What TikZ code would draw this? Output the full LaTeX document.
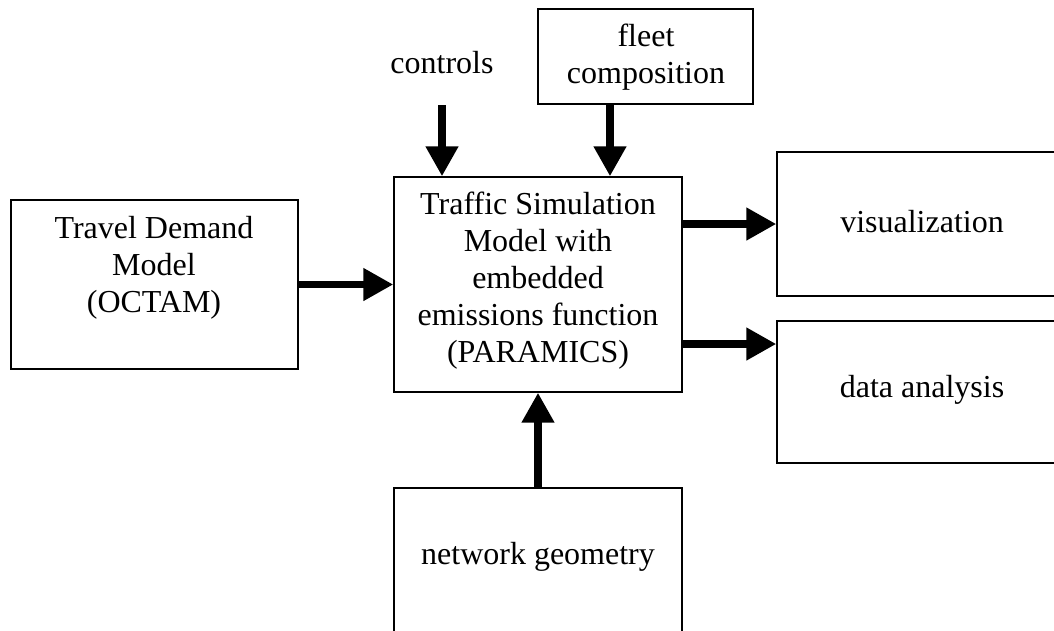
\documentclass[tikz,border=0pt]{standalone}
\usepackage{fontspec}
\setmainfont{Liberation Serif}
\usetikzlibrary{arrows.meta}
\tikzset{
  box/.style={draw, line width=1.4pt, rectangle, inner sep=0pt},
  txt/.style={align=center, inner sep=0pt, font=\fontsize{32}{37}\selectfont},
  flow/.style={line width=7.5pt, -{Triangle[width=31pt,length=30pt]}}
}
\begin{document}
\begin{tikzpicture}[x=1pt,y=-1pt]
\useasboundingbox (0,0) rectangle (1054,630);
\clip (0,0) rectangle (1054,630);
% boxes
\node[box, minimum width=287pt, minimum height=169pt] (tdm) at (154.5,284.5) {};
\node[box, minimum width=288pt, minimum height=215pt] (sim) at (538,284.5) {};
\node[box, minimum width=215pt, minimum height=95pt] (fleet) at (645.5,56.5) {};
\node[box, minimum width=300pt, minimum height=144pt] (vis) at (927,224) {};
\node[box, minimum width=300pt, minimum height=142pt] (data) at (927,392) {};
\node[box, minimum width=288pt, minimum height=200pt] (net) at (538,588) {};
% texts
\node[txt] (tdmt) at (154,268) {Travel Demand\\Model\\(OCTAM)};
\node[txt] (simt) at (538,281) {Traffic Simulation\\Model with\\embedded\\emissions function\\(PARAMICS)};
\node[txt] (fleett) at (646,57) {fleet\\composition};
\node[txt] (ctrl) at (442,63) {controls};
\node[txt] (vist) at (922,222) {visualization};
\node[txt] (datat) at (922,390) {data analysis};
\node[txt] (nett) at (538,557) {network geometry};
% connectors
\coordinate (ctrlstart) at (442,105);
\coordinate (fleetout) at (610,0);
\draw[flow] (ctrlstart) -- (ctrlstart |- sim.north);
\draw[flow] (fleetout |- fleet.south) -- (fleetout |- sim.north);
\draw[flow] (tdm.east) -- (tdm.east -| sim.west);
\draw[flow] (sim.east |- 0,224) -- (vis.west |- 0,224);
\draw[flow] (sim.east |- 0,344) -- (data.west |- 0,344);
\draw[flow] (net.north) -- (net.north |- sim.south);
\end{tikzpicture}
\end{document}
